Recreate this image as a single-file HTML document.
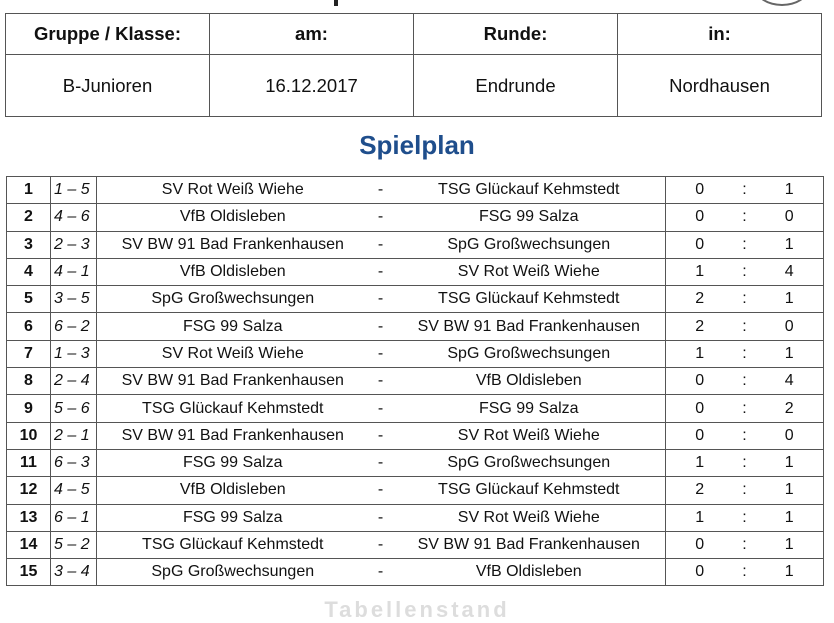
<!DOCTYPE html>
<html><head><meta charset="utf-8"><style>
body{margin:0;width:834px;height:604px;background:#fff;position:relative;overflow:hidden;font-family:"Liberation Sans",Arial,sans-serif;color:#111}
.a{position:absolute}
table{border-collapse:collapse;position:absolute;table-layout:fixed}
td{border:1.5px solid #555;padding:0;text-align:center;white-space:nowrap}
#top td{width:203px;font-size:18.5px}
#m td{border-left:none;border-right:none;font-size:16px;height:26.3px}
#m td.l{border-left:1.5px solid #555}
#m td.r{border-right:1.5px solid #555}
</style></head><body>
<div class="a" style="left:334px;top:-10px;width:12px;height:16px;border-left:4px solid #222"></div>
<div class="a" style="left:755px;top:-30px;width:50px;height:32px;border:2px solid #666;border-radius:50%"></div>
<table id="top" style="left:5px;top:13px;width:816px">
<tr style="height:41px;font-weight:bold"><td>Gruppe / Klasse:</td><td>am:</td><td>Runde:</td><td>in:</td></tr>
<tr style="height:62px"><td>B-Junioren</td><td>16.12.2017</td><td>Endrunde</td><td>Nordhausen</td></tr>
</table>
<div class="a" style="left:0;width:834px;top:130px;text-align:center;font-size:26px;font-weight:bold;color:#1f4e8c">Spielplan</div>
<table id="m" style="left:6px;top:176px;width:817px">
<colgroup><col style="width:44px"><col style="width:46px"><col style="width:272px"><col style="width:24px"><col style="width:273px"><col style="width:68px"><col style="width:22px"><col style="width:68px"></colgroup>
<tbody id="b"></tbody>
</table>
<script>
var d=[["1","1 – 5","SV Rot Weiß Wiehe","TSG Glückauf Kehmstedt","0","1"],
["2","4 – 6","VfB Oldisleben","FSG 99 Salza","0","0"],
["3","2 – 3","SV BW 91 Bad Frankenhausen","SpG Großwechsungen","0","1"],
["4","4 – 1","VfB Oldisleben","SV Rot Weiß Wiehe","1","4"],
["5","3 – 5","SpG Großwechsungen","TSG Glückauf Kehmstedt","2","1"],
["6","6 – 2","FSG 99 Salza","SV BW 91 Bad Frankenhausen","2","0"],
["7","1 – 3","SV Rot Weiß Wiehe","SpG Großwechsungen","1","1"],
["8","2 – 4","SV BW 91 Bad Frankenhausen","VfB Oldisleben","0","4"],
["9","5 – 6","TSG Glückauf Kehmstedt","FSG 99 Salza","0","2"],
["10","2 – 1","SV BW 91 Bad Frankenhausen","SV Rot Weiß Wiehe","0","0"],
["11","6 – 3","FSG 99 Salza","SpG Großwechsungen","1","1"],
["12","4 – 5","VfB Oldisleben","TSG Glückauf Kehmstedt","2","1"],
["13","6 – 1","FSG 99 Salza","SV Rot Weiß Wiehe","1","1"],
["14","5 – 2","TSG Glückauf Kehmstedt","SV BW 91 Bad Frankenhausen","0","1"],
["15","3 – 4","SpG Großwechsungen","VfB Oldisleben","0","1"]];
var h="";
d.forEach(function(r){h+='<tr><td class="l r" style="font-weight:bold">'+r[0]+'</td><td class="r" style="font-style:italic;text-align:left;padding-left:3px">'+r[1]+'</td><td>'+r[2]+'</td><td>-</td><td class="r">'+r[3]+'</td><td>'+r[4]+'</td><td>:</td><td class="r">'+r[5]+'</td></tr>';});
document.getElementById("b").innerHTML=h;
</script>
<div class="a" style="left:0;width:834px;top:597px;text-align:center;font-size:22px;font-weight:bold;color:#ddd;letter-spacing:3px">Tabellenstand</div>
</body></html>
